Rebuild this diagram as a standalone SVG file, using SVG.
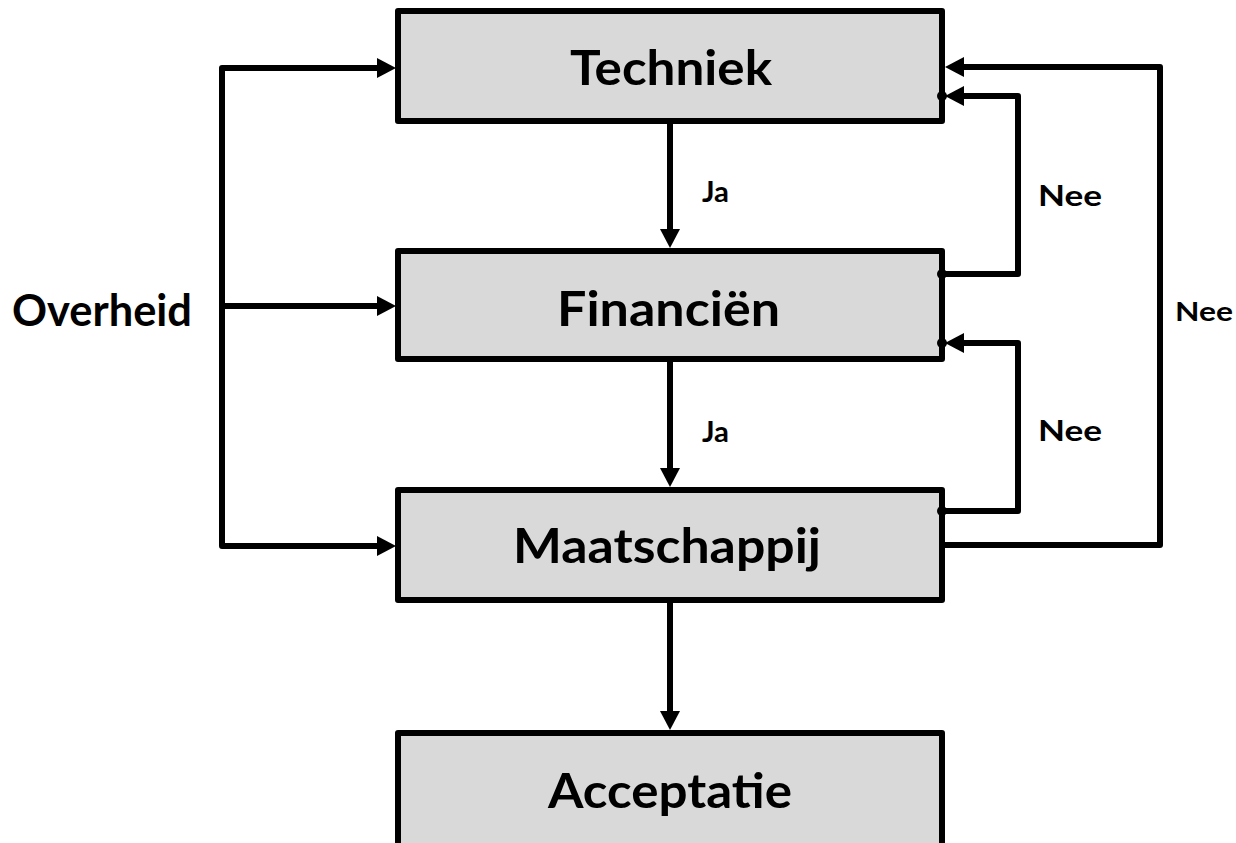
<svg xmlns="http://www.w3.org/2000/svg" width="1236" height="843" viewBox="0 0 1236 843">
<defs>
<style>
.box{fill:#d9d9d9;stroke:#000;stroke-width:6;stroke-linejoin:round}
.ln{fill:none;stroke:#000;stroke-width:6;stroke-linejoin:round}
.t{font-family:Lato,"Open Sans","Liberation Sans",sans-serif;font-weight:bold;fill:#000}
.big{font-size:48px}
.sm{font-size:29px}
</style>
<marker id="ah" markerWidth="19" markerHeight="20" refX="0" refY="10" orient="auto" markerUnits="userSpaceOnUse">
<path d="M0,0 L19,10 L0,20 Z" fill="#000"/>
</marker>
</defs>
<rect width="1236" height="843" fill="#fff"/>
<g id="connectors">
<path class="ln" d="M222,306 L222,68 L377,68" marker-end="url(#ah)"/>
<path class="ln" d="M222,306 L377,306" marker-end="url(#ah)"/>
<path class="ln" d="M222,306 L222,546 L377,546" marker-end="url(#ah)"/>
<path class="ln" d="M670,121 L670,229" marker-end="url(#ah)"/>
<path class="ln" d="M670,359 L670,468" marker-end="url(#ah)"/>
<path class="ln" d="M670,600 L670,711" marker-end="url(#ah)"/>
<path class="ln" d="M942,545 L1160,545 L1160,67 L964,67" marker-end="url(#ah)"/>
<path class="ln" d="M942,274 L1018,274 L1018,96 L964,96" marker-end="url(#ah)"/>
<path class="ln" d="M942,511 L1018,511 L1018,343 L964,343" marker-end="url(#ah)"/>
</g>
<g id="techniek">
<rect class="box" x="398" y="11" width="544" height="110"/>
<text class="t big" x="570" y="85" textLength="202" lengthAdjust="spacingAndGlyphs">Techniek</text>
</g>
<g id="financien">
<rect class="box" x="398" y="251" width="544" height="108"/>
<text class="t big" x="557" y="326" textLength="223" lengthAdjust="spacingAndGlyphs">Financiën</text>
</g>
<g id="maatschappij">
<rect class="box" x="398" y="490" width="544" height="110"/>
<text class="t big" x="513" y="563" textLength="308" lengthAdjust="spacingAndGlyphs">Maatschappij</text>
</g>
<g id="acceptatie">
<rect class="box" x="398" y="733" width="544" height="130"/>
<text class="t big" x="548" y="808" textLength="244" lengthAdjust="spacingAndGlyphs">Acceptatie</text>
</g>
<g id="dots">
<circle cx="942" cy="96" r="5"/>
<circle cx="942" cy="274" r="5"/>
<circle cx="942" cy="343" r="5"/>
<circle cx="942" cy="511" r="5"/>
</g>
<g id="labels">
<text class="t" style="font-size:43px" x="12" y="326" textLength="180" lengthAdjust="spacingAndGlyphs">Overheid</text>
<text class="t sm" x="702" y="202" textLength="27" lengthAdjust="spacingAndGlyphs">Ja</text>
<text class="t sm" x="702" y="442" textLength="27" lengthAdjust="spacingAndGlyphs">Ja</text>
<text class="t sm" x="1038" y="206" textLength="64" lengthAdjust="spacingAndGlyphs">Nee</text>
<text class="t sm" x="1038" y="441" textLength="64" lengthAdjust="spacingAndGlyphs">Nee</text>
<text class="t" style="font-size:27px" x="1175" y="321" textLength="58" lengthAdjust="spacingAndGlyphs">Nee</text>
</g>
</svg>
